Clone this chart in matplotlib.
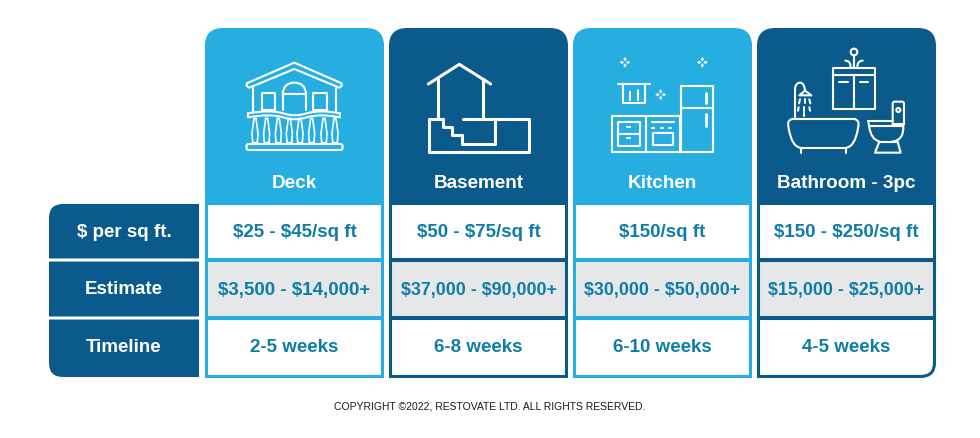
"""Renovation cost comparison table drawn as a matplotlib figure."""

import matplotlib
matplotlib.use("Agg")
import matplotlib.pyplot as plt
from matplotlib.patches import Circle, PathPatch
from matplotlib.path import Path

categories = ["Deck", "Basement", "Kitchen", "Bathroom - 3pc"]
row_labels = ["$ per sq ft.", "Estimate", "Timeline"]
per_sqft = ["$25 - $45/sq ft", "$50 - $75/sq ft", "$150/sq ft", "$150 - $250/sq ft"]
estimate = ["$3,500 - $14,000+", "$37,000 - $90,000+", "$30,000 - $50,000+", "$15,000 - $25,000+"]
timeline = ["2-5 weeks", "6-8 weeks", "6-10 weeks", "4-5 weeks"]
copyright_text = "COPYRIGHT ©2022, RESTOVATE LTD. ALL RIGHTS RESERVED."

LIGHT = "#27aee1"
DARK = "#0a5a8c"
TEXT = "#0f7da8"
GREY = "#e6e7e9"
FONT = ["Liberation Sans", "DejaVu Sans"]

COL_X = [205, 389, 573, 757]
COL_W = 179
ROW_Y = [203, 260, 318, 377]
TEXT_Y = [230.5, 288, 345]


def rounded(x0, y0, x1, y1, tl=0, tr=0, br=0, bl=0):
    # y grows downwards, the axes is in pixel coordinates
    v = [(x0 + tl, y0), (x1 - tr, y0), (x1, y0), (x1, y0 + tr),
         (x1, y1 - br), (x1, y1), (x1 - br, y1),
         (x0 + bl, y1), (x0, y1), (x0, y1 - bl),
         (x0, y0 + tl), (x0, y0), (x0 + tl, y0), (x0 + tl, y0)]
    c = [Path.MOVETO, Path.LINETO, Path.CURVE3, Path.CURVE3,
         Path.LINETO, Path.CURVE3, Path.CURVE3,
         Path.LINETO, Path.CURVE3, Path.CURVE3,
         Path.LINETO, Path.CURVE3, Path.CURVE3, Path.CLOSEPOLY]
    return Path(v, c)


class Icon:
    """Strokes given in 3x zoom coordinates around an origin in pixels."""

    def __init__(self, ax, ox, oy, lw=1.5):
        self.ax, self.ox, self.oy, self.lw = ax, ox, oy, lw

    def pt(self, p):
        return (self.ox + p[0] / 3, self.oy + p[1] / 3)

    def line(self, *pts, closed=False, lw=None):
        v = [self.pt(p) for p in pts]
        c = [Path.MOVETO] + [Path.LINETO] * (len(v) - 1)
        if closed:
            v.append(v[0])
            c.append(Path.CLOSEPOLY)
        self.add(Path(v, c), lw)

    def rect(self, x0, y0, x1, y1, lw=None):
        self.line((x0, y0), (x1, y0), (x1, y1), (x0, y1), closed=True, lw=lw)

    def curve(self, *pts, lw=None):
        # start point followed by control/end pairs
        v = [self.pt(p) for p in pts]
        c = [Path.MOVETO] + [Path.CURVE3] * (len(v) - 1)
        self.add(Path(v, c), lw)

    def add(self, path, lw=None, fc="none"):
        self.ax.add_patch(PathPatch(path, fc=fc, ec="white", lw=lw or self.lw,
                                    capstyle="round", joinstyle="round"))

    def circle(self, x, y, r):
        cx, cy = self.pt((x, y))
        self.ax.add_patch(Circle((cx, cy), r / 3, fc="none", ec="white", lw=self.lw))

    def sparkle(self, x, y):
        # four small petals around an empty centre
        for dx, dy in [(-1, 0), (1, 0), (0, -1), (0, 1)]:
            v = [(x + dx * 4, y + dy * 4), (x + dx * 9 - dy * 4, y + dy * 9 - dx * 4),
                 (x + dx * 15, y + dy * 15), (x + dx * 9 + dy * 4, y + dy * 9 + dx * 4),
                 (x + dx * 4, y + dy * 4)]
            c = [Path.MOVETO, Path.LINETO, Path.LINETO, Path.LINETO, Path.CLOSEPOLY]
            self.add(Path([self.pt(p) for p in v], c), lw=0.3, fc="white")


def draw_deck(ax):
    ic = Icon(ax, 200, 20)
    ic.line((140, 190), (283, 128), (425, 190), (425, 198), (418, 203),
            (283, 147), (148, 203), (140, 198), closed=True)
    ic.line((158, 203), (158, 276))
    ic.line((408, 203), (408, 276))
    ic.rect(185, 218, 225, 270)
    ic.rect(340, 218, 382, 270)
    ic.line((248, 270), (248, 222), (318, 222), (318, 270))
    ic.curve((248, 222), (250, 188), (283, 188), (316, 188), (318, 222))
    ic.curve((145, 280), (210, 268), (250, 280), (283, 292), (320, 280), (360, 268), (420, 280))
    ic.curve((145, 292), (210, 280), (250, 292), (283, 304), (320, 292), (360, 280), (420, 292))
    ic.line((145, 280), (145, 292))
    ic.line((420, 280), (420, 292))
    for x in [165, 200, 235, 268, 300, 335, 372, 405]:
        ic.line((x - 3, 295), (x - 9, 340), (x - 7, 368), (x + 7, 368),
                (x + 9, 340), (x + 3, 295), closed=True, lw=1.2)
    ax.add_patch(PathPatch(rounded(246.5, 144, 342.5, 150, 2, 2, 2, 2),
                           fc="none", ec="white", lw=1.5))


def draw_basement(ax):
    ic = Icon(ax, 200, 20, lw=2.2)
    ic.line((685, 192), (778, 133), (872, 192))
    ic.line((715, 176), (715, 298))
    ic.line((850, 176), (850, 298))
    ic.line((730, 298), (687, 298), (687, 396), (988, 396), (988, 298), (790, 298))
    ic.line((730, 298), (730, 320), (757, 320), (757, 346), (785, 346), (785, 372),
            (885, 372), (885, 298))


def draw_kitchen(ax):
    ic = Icon(ax, 570, 20, lw=1.5)
    for x, y in [(165, 127), (397, 127), (272, 224)]:
        ic.sparkle(x, y)
    ic.line((145, 193), (240, 193))
    ic.line((160, 193), (160, 250), (225, 250), (225, 193))
    ic.line((180, 240), (180, 215))
    ic.line((205, 240), (205, 210))
    ic.rect(125, 288, 330, 395)
    ic.line((228, 288), (228, 395))
    ic.rect(145, 307, 210, 377)
    ic.line((145, 342), (210, 342))
    ic.line((170, 320), (180, 320))
    ic.line((170, 355), (180, 355))
    ic.line((245, 307), (312, 307))
    ic.rect(248, 340, 310, 375)
    for x in [250, 275, 300]:
        ic.line((x - 3, 325), (x + 3, 325))
    ic.rect(332, 198, 430, 395)
    ic.line((332, 265), (430, 265))
    ic.line((407, 218), (407, 250), lw=2)
    ic.line((407, 282), (407, 318), lw=2)


def draw_bathroom(ax):
    ic = Icon(ax, 570, 20, lw=1.5)
    # tub
    ic.line((665, 298), (855, 298))
    ic.curve((665, 298), (650, 300), (656, 325), (665, 382), (695, 384))
    ic.line((695, 384), (825, 384))
    ic.curve((855, 298), (870, 300), (864, 325), (855, 382), (825, 384))
    ic.line((693, 386), (693, 398))
    ic.line((827, 386), (827, 398))
    # shower
    ic.line((675, 296), (675, 205))
    ic.curve((675, 205), (678, 188), (690, 188), (703, 188), (705, 212))
    ic.line((688, 226), (705, 212), (724, 226), closed=True)
    for x0, y0, x1, y1 in [(690, 238, 687, 250), (705, 238, 705, 250), (718, 238, 721, 250),
                           (686, 262, 684, 272), (703, 262, 703, 272), (718, 262, 720, 272),
                           (701, 278, 701, 288)]:
        ic.line((x0, y0), (x1, y1))
    # vanity
    ic.rect(790, 145, 915, 268)
    ic.line((790, 165), (915, 165))
    ic.line((852, 165), (852, 268))
    ic.line((808, 187), (833, 187))
    ic.line((870, 187), (895, 187))
    ic.circle(852, 96, 10)
    ic.line((852, 106), (852, 142))
    ic.curve((826, 122), (842, 122), (842, 142))
    ic.curve((878, 122), (862, 122), (862, 142))
    # toilet
    ax.add_patch(PathPatch(rounded(570 + 968 / 3, 20 + 245 / 3, 570 + 1002 / 3, 20 + 312 / 3, 2, 2, 0, 0),
                           fc="none", ec="white", lw=1.5))
    ic.circle(985, 270, 6)
    ic.line((895, 303), (968, 303))
    ic.line((895, 303), (897, 318), (1000, 318))
    ic.curve((897, 318), (903, 360), (930, 365))
    ic.curve((1000, 318), (1002, 362), (965, 365))
    ic.line((930, 365), (982, 365))
    ic.line((928, 365), (915, 398), (992, 398), (982, 362))


def main():
    fig = plt.figure(figsize=(9.8, 4.38), dpi=100)
    ax = fig.add_axes([0, 0, 1, 1])
    ax.set_xlim(0, 980)
    ax.set_ylim(438, 0)
    ax.axis("off")

    rows = [per_sqft, estimate, timeline]
    txt = dict(ha="center", va="center_baseline", family=FONT, weight="bold", parse_math=False)

    # left row header blocks
    for i, label in enumerate(row_labels):
        tl = 14 if i == 0 else 0
        bl = 14 if i == 2 else 0
        y0 = ROW_Y[i] + (1.5 if i else 1)
        y1 = ROW_Y[i + 1] - (1.5 if i < 2 else 0)
        ax.add_patch(PathPatch(rounded(49, y0, 199, y1, tl=tl, bl=bl), fc=DARK, ec="none"))
        ax.text(124, TEXT_Y[i], label, color="white", fontsize=13.5, **txt)

    # columns
    for c, name in enumerate(categories):
        x0 = COL_X[c]
        x1 = x0 + COL_W
        xc = (x0 + x1) / 2
        col = LIGHT if c % 2 == 0 else DARK
        ax.add_patch(PathPatch(rounded(x0, 28, x1, ROW_Y[0] + 1, tl=18, tr=18), fc=col, ec="none"))
        ax.text(xc, 182, name, color="white", fontsize=13.6, **txt)
        for r, values in enumerate(rows):
            br = 14 if (c == 3 and r == 2) else 0
            ax.add_patch(PathPatch(
                rounded(x0 + 1.5, ROW_Y[r] + 0.5, x1 - 1.5, ROW_Y[r + 1] - 0.5, br=br),
                fc=GREY if r == 1 else "white", ec=col, lw=2.2))
            # the long estimates are set a little smaller so they fit the cell
            size = 12.9 if len(values[c]) > 17 else 13.5
            ax.text(xc, TEXT_Y[r], values[c], color=TEXT, fontsize=size, **txt)

    draw_deck(ax)
    draw_basement(ax)
    draw_kitchen(ax)
    draw_bathroom(ax)

    ax.text(490, 406.5, copyright_text, ha="center", va="center", family=FONT,
            fontsize=7.5, color="#1a1a1a")

    fig.savefig("out.png", dpi=100, facecolor="white")
    plt.close(fig)


if __name__ == "__main__":
    main()
